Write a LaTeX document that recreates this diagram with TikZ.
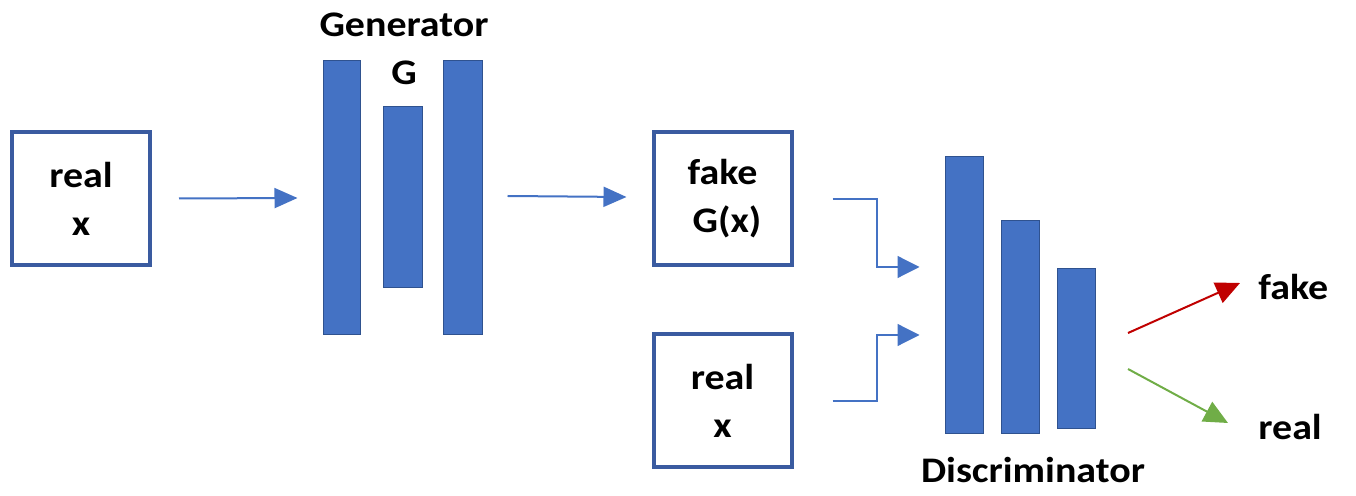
\documentclass[tikz,border=0pt]{standalone}
\usepackage{fontspec}
\setmainfont{Carlito}[FakeStretch=1.11]
\usetikzlibrary{arrows.meta,calc}
\definecolor{barblue}{HTML}{4472C4}
\definecolor{baredge}{HTML}{2F528F}
\definecolor{boxedge}{HTML}{3A5BA0}
\definecolor{lineblue}{HTML}{4F7AD0}
\definecolor{elbblue}{HTML}{7F9FDC}
\definecolor{outred}{HTML}{C00000}
\definecolor{outgreen}{HTML}{70AD47}
\begin{document}
\begin{tikzpicture}[x=0.5pt,y=-0.5pt,
  lbl/.style={font=\fontsize{18}{24}\selectfont\bfseries, text=black, align=center, inner sep=0pt},
  inbox/.style={draw=boxedge, line width=2pt, fill=white, minimum width=69pt, minimum height=66.5pt, inner sep=0pt, lbl},
  bar/.style={draw=baredge, line width=0.5pt, fill=barblue, inner sep=0pt, minimum width=19pt},
  arr/.style={draw=lineblue, line width=1pt, -{Triangle[length=11.5pt,width=10pt]}, color=barblue},
  elb/.style={draw=elbblue, line width=0.6pt, -{Triangle[length=11pt,width=11pt,fill=barblue]}, barblue},
]
\useasboundingbox (0,0) rectangle (1356,496);
% input box
\node[inbox] (b1) at (81,198.5) {real\\x};
% generator
\node[bar, minimum width=18.5pt, minimum height=137pt] (g1) at (341.5,198) {};
\node[bar, minimum width=19.5pt, minimum height=90.5pt] (g2) at (402.5,197.5) {};
\node[bar, minimum width=19.5pt, minimum height=137pt] (g3) at (462.5,198) {};
\node[lbl] (gen) at (404,25) {Generator};
\node[lbl] (gl) at (404,73) {G};
% fake / real boxes
\node[inbox] (fk) at (722.5,199) {fake\\\ G(x)};
\node[inbox] (rl) at (722.5,401) {real\\x};
% discriminator
\node[bar, minimum height=138.5pt] (d1) at (964,295.5) {};
\node[bar, minimum height=106.5pt] (d2) at (1020,327.5) {};
\node[bar, minimum height=80pt] (d3) at (1076,349) {};
\node[lbl] (disc) at (1033,470) {Discriminator};
% outputs
\node[lbl, anchor=west] (ofake) at (1258,287) {fake};
\node[lbl, anchor=west] (oreal) at (1258,427) {real};
% arrows
\draw[arr] ([xshift=13.5pt]b1.east) -- ([xshift=-12.5pt]g1.west);
\draw[arr] ([xshift=12.5pt,yshift=1pt]g3.east) -- ([xshift=-12.5pt,yshift=1pt]fk.west);
\coordinate (e1) at (877,267);
\coordinate (e2) at (877,335);
\draw[elb] ([xshift=19.5pt]fk.east) -| (e1) -- ($(d1.west |- e1)+(-25,0)$);
\draw[elb] ([xshift=19.5pt]rl.east) -| (e2) -- ($(d1.west |- e2)+(-25,0)$);
\coordinate (rs) at (1128,333);
\coordinate (gs) at (1128,369);
\draw[draw=outred, line width=1pt, -{Triangle[length=12pt,width=11pt]}, outred] (rs) -- ($(rs)!1!(1240,283)$);
\draw[draw=outgreen, line width=1pt, -{Triangle[length=12pt,width=11pt]}, outgreen] (gs) -- ($(gs)!1!(1228,423)$);
\end{tikzpicture}
\end{document}
